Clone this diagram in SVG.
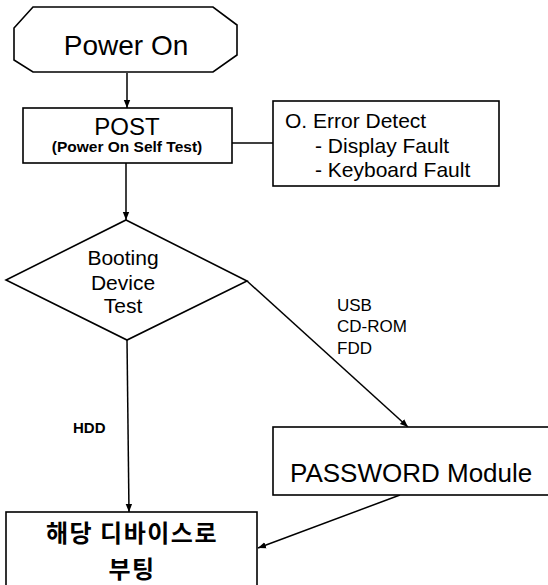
<svg xmlns="http://www.w3.org/2000/svg" width="548" height="585" viewBox="0 0 548 585">
<style>
.s{fill:#fff;stroke:#000;stroke-width:1.6}
.c{fill:none;stroke:#000;stroke-width:1.5}
text{font-family:"Liberation Sans",Arial,sans-serif;fill:#000}
.m{text-anchor:middle}
.k{font-family:"Noto Sans CJK KR",sans-serif;font-weight:700;font-size:24px;letter-spacing:1.5px}
</style>
<defs>
<marker id="a" viewBox="0 0 10 10" refX="10" refY="5" markerWidth="8" markerHeight="8" markerUnits="userSpaceOnUse" orient="auto">
<path d="M0,1 L10,5 L0,9 Z" fill="#000"/>
</marker>
</defs>
<rect width="548" height="585" fill="#fff"/>
<g id="connectors">
<line class="c" x1="127" y1="73" x2="127" y2="108" marker-end="url(#a)"/>
<line class="c" x1="232" y1="143" x2="273" y2="143"/>
<line class="c" x1="126" y1="163" x2="126" y2="220" marker-end="url(#a)"/>
<line class="c" x1="127" y1="340" x2="129" y2="512" marker-end="url(#a)"/>
<line class="c" x1="247" y1="281" x2="408" y2="427" marker-end="url(#a)"/>
<line class="c" x1="400" y1="495" x2="258" y2="548" marker-end="url(#a)"/>
<text x="73" y="433" font-size="15" font-weight="700">HDD</text>
<text x="337" y="311" font-size="17">USB</text>
<text x="337" y="332" font-size="17">CD-ROM</text>
<text x="337" y="354" font-size="17">FDD</text>
</g>
<g id="power-on">
<path class="s" d="M33,7 L213,7 L237,25 L237,55 L213,72 L33,72 L14,60 L14,28 Z"/>
<text class="m" x="126" y="55" font-size="28">Power On</text>
</g>
<g id="post">
<rect class="s" x="23" y="108" width="209" height="55"/>
<text class="m" x="127" y="135" font-size="24">POST</text>
<text class="m" x="127" y="152" font-size="15.5" font-weight="700">(Power On Self Test)</text>
</g>
<g id="error-detect">
<rect class="s" x="273" y="101" width="226" height="85"/>
<text x="285" y="128" font-size="21">O. Error Detect</text>
<text x="315" y="153" font-size="21">- Display Fault</text>
<text x="315" y="177" font-size="21">- Keyboard Fault</text>
</g>
<g id="booting-device-test">
<path class="s" d="M126,220 L247,281 L127,340 L6,280 Z"/>
<text class="m" x="123" y="265" font-size="21">Booting</text>
<text class="m" x="123" y="290" font-size="21">Device</text>
<text class="m" x="123" y="313" font-size="21">Test</text>
</g>
<g id="password-module">
<rect class="s" x="273" y="427" width="276" height="68"/>
<text x="290" y="482" font-size="26">PASSWORD Module</text>
</g>
<g id="boot-device">
<rect class="s" x="6" y="512" width="251" height="80"/>
<text class="m k" x="132" y="542">해당 디바이스로</text>
<text class="m k" x="132" y="578">부팅</text>
</g>
</svg>
